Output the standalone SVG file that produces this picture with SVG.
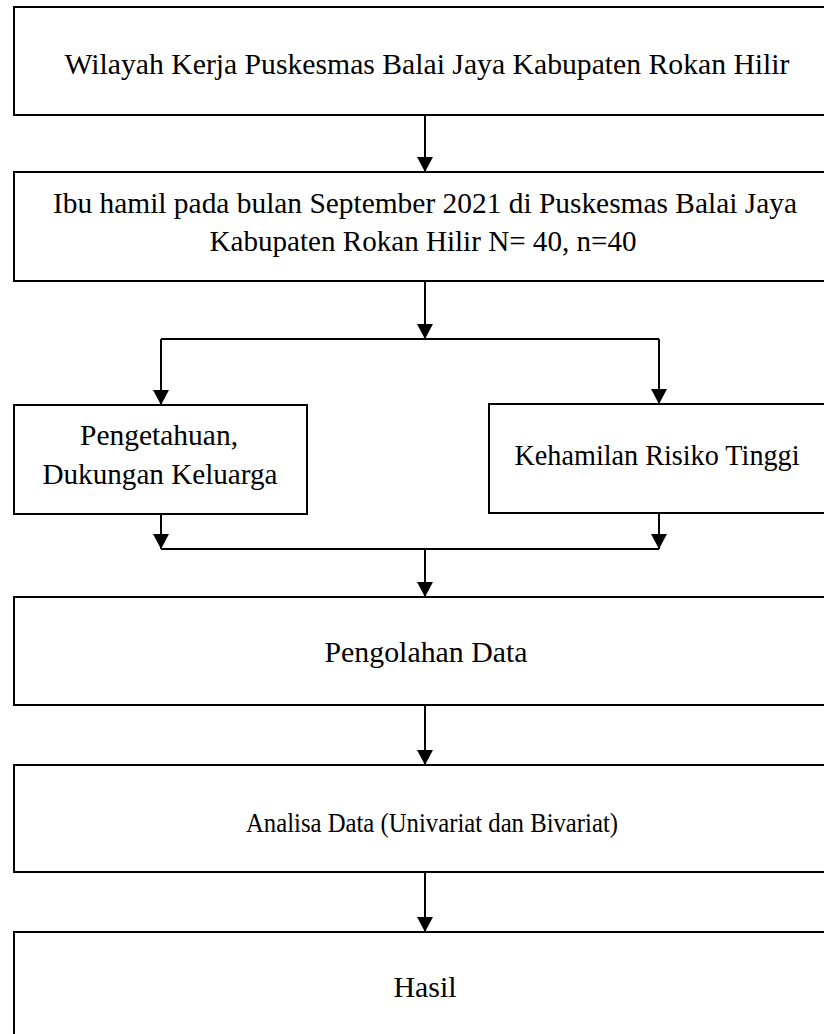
<svg xmlns="http://www.w3.org/2000/svg" width="824" height="1034" viewBox="0 0 824 1034">
<style>
.box{fill:#fff;stroke:#000;stroke-width:2}
.t{font-family:"Liberation Serif","Times New Roman",serif;font-size:30px;fill:#000;text-anchor:middle}
.c{fill:none;stroke:#000;stroke-width:2}
</style>
<defs>
<marker id="ah" markerUnits="userSpaceOnUse" markerWidth="16" markerHeight="16" refX="15" refY="8" orient="auto">
<path d="M0,0 L15,8 L0,16 Z" fill="#000"/>
</marker>
</defs>
<rect width="824" height="1034" fill="#fff"/>
<g id="n1"><rect class="box" x="14" y="7" width="812" height="108"/><text class="t" x="427" y="74" textLength="725" lengthAdjust="spacingAndGlyphs">Wilayah Kerja Puskesmas Balai Jaya Kabupaten Rokan Hilir</text></g>
<g id="n2"><rect class="box" x="14" y="172" width="812" height="109"/><text class="t" x="425" y="213" textLength="744" lengthAdjust="spacingAndGlyphs">Ibu hamil pada bulan September 2021 di Puskesmas Balai Jaya</text><text class="t" x="423" y="251" textLength="427" lengthAdjust="spacingAndGlyphs">Kabupaten Rokan Hilir N= 40, n=40</text></g>
<g id="n3"><rect class="box" x="14" y="405" width="293" height="109"/><text class="t" x="159" y="445" textLength="158" lengthAdjust="spacingAndGlyphs">Pengetahuan,</text><text class="t" x="160" y="484" textLength="235" lengthAdjust="spacingAndGlyphs">Dukungan Keluarga</text></g>
<g id="n4"><rect class="box" x="489" y="404" width="337" height="109"/><text class="t" x="657" y="465" textLength="285" lengthAdjust="spacingAndGlyphs">Kehamilan Risiko Tinggi</text></g>
<g id="n5"><rect class="box" x="14" y="597" width="812" height="108"/><text class="t" x="426" y="662" textLength="203" lengthAdjust="spacingAndGlyphs">Pengolahan Data</text></g>
<g id="n6"><rect class="box" x="14" y="765" width="812" height="107"/><text class="t" x="432" y="832" style="font-size:28px" textLength="372" lengthAdjust="spacingAndGlyphs">Analisa Data (Univariat dan Bivariat)</text></g>
<g id="n7"><rect class="box" x="14" y="932" width="812" height="120"/><text class="t" x="425" y="997" textLength="63" lengthAdjust="spacingAndGlyphs">Hasil</text></g>
<g id="connectors">
<line class="c" x1="425" y1="115" x2="425" y2="172" marker-end="url(#ah)"/>
<line class="c" x1="425" y1="281" x2="425" y2="339" marker-end="url(#ah)"/>
<polyline class="c" points="161,339 659,339"/>
<line class="c" x1="161" y1="339" x2="161" y2="405" marker-end="url(#ah)"/>
<line class="c" x1="659" y1="339" x2="659" y2="404" marker-end="url(#ah)"/>
<line class="c" x1="161" y1="514" x2="161" y2="549" marker-end="url(#ah)"/>
<line class="c" x1="659" y1="513" x2="659" y2="549" marker-end="url(#ah)"/>
<polyline class="c" points="161,549 659,549"/>
<line class="c" x1="425" y1="549" x2="425" y2="597" marker-end="url(#ah)"/>
<line class="c" x1="425" y1="705" x2="425" y2="765" marker-end="url(#ah)"/>
<line class="c" x1="425" y1="872" x2="425" y2="932" marker-end="url(#ah)"/>
</g>
</svg>
